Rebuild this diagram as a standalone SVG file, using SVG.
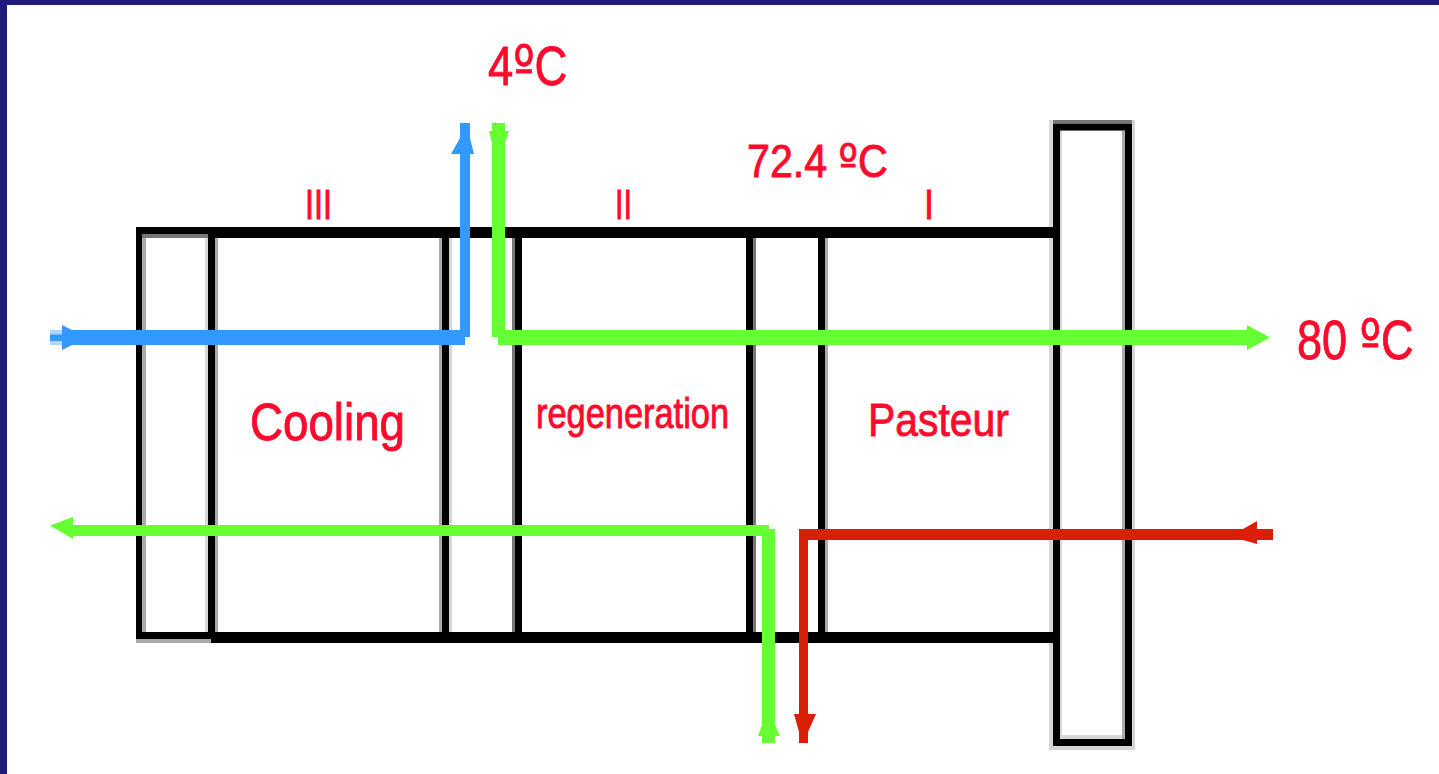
<svg xmlns="http://www.w3.org/2000/svg" width="1439" height="774" viewBox="0 0 1439 774">
<style>
.k{fill:#000}.g1{fill:#d6d6d6}.g2{fill:#aaa}.g3{fill:#777}
.t{fill:#ff0a2c;font-family:"Liberation Sans",Arial,sans-serif;stroke:#ff0a2c;stroke-width:.9}
.o{font-family:"DejaVu Sans",sans-serif}
.blue{fill:#3399ff}.green{fill:#66ff33}.red{fill:#d92007}
</style>
<rect width="1439" height="774" fill="#fff"/>
<path d="M0 0H1439V5H7V774H0Z" fill="#1f1a7a"/>
<g id="end-frame-left">
<rect class="g2" x="142" y="238" width="4" height="394"/>
<rect class="g1" x="205" y="238" width="3" height="394"/>
<rect class="k" x="136" y="227" width="6" height="412"/>
<rect class="g3" x="142" y="234" width="66" height="4"/>
<rect class="g2" x="136" y="639" width="75" height="4"/>
<rect class="k" x="136" y="632" width="75" height="7"/>
</g>
<g id="section-cooling">
<rect class="k" x="136" y="227" width="307" height="7"/>
<rect class="k" x="208" y="227" width="235" height="11"/>
<rect class="g2" x="215" y="238" width="3" height="394"/>
<rect class="k" x="208" y="227" width="7" height="412"/>
<rect class="k" x="211" y="632" width="232" height="11"/>
<rect class="g2" x="439" y="238" width="3" height="394"/>
<rect class="g1" x="449" y="238" width="3" height="394"/>
<rect class="k" x="442" y="227" width="7" height="416"/>
<text class="t" x="250" y="440" font-size="52" textLength="155" lengthAdjust="spacingAndGlyphs">Cooling</text>
<text class="t" x="305" y="219" font-size="43" textLength="27" lengthAdjust="spacingAndGlyphs">III</text>
</g>
<g id="section-regeneration">
<rect class="k" x="443" y="227" width="304" height="11"/>
<rect class="g3" x="512" y="238" width="3" height="394"/>
<rect class="k" x="515" y="227" width="7" height="416"/>
<rect class="k" x="443" y="632" width="304" height="11"/>
<text class="t" x="536" y="428" font-size="42" textLength="193" lengthAdjust="spacingAndGlyphs">regeneration</text>
<text class="t" x="615" y="219" font-size="43" textLength="17" lengthAdjust="spacingAndGlyphs">II</text>
</g>
<g id="section-pasteur">
<rect class="g3" x="753" y="238" width="3" height="394"/>
<rect class="k" x="746" y="227" width="7" height="416"/>
<rect class="g2" x="825" y="238" width="3" height="394"/>
<rect class="k" x="818" y="227" width="7" height="416"/>
<text class="t" x="868" y="436" font-size="47" textLength="141" lengthAdjust="spacingAndGlyphs">Pasteur</text>
<text class="t" x="924" y="219" font-size="43" textLength="10" lengthAdjust="spacingAndGlyphs">I</text>
</g>
<g id="end-frame-right">
<rect class="g1" x="1049" y="120" width="86" height="630"/>
<rect fill="#fff" x="1062" y="131" width="60" height="608"/>
<rect class="g3" x="1053" y="120" width="79" height="3"/>
<rect class="g2" x="1122" y="131" width="3" height="608"/>
<rect class="g1" x="1059" y="735" width="63" height="4"/>
<rect fill="none" stroke="#000" stroke-width="7" x="1056.500" y="127" width="72" height="615.500"/>
<rect class="k" x="746" y="227" width="310" height="11"/>
<rect class="k" x="746" y="632" width="310" height="11"/>
</g>
<g id="connectors">
<path class="blue" opacity=".4" d="M50 330H62V345H50Z"/>
<path class="blue" d="M50 334.500H62V325L72 330H460V154H451L460 138V123H470V138L474 154H470V337H465V345H72L62 350V341H50Z"/>
<path class="green" d="M492 123H505V131H509L505 143V330H1247V325L1270 337.500L1247 350V345H498V337H492V143L489 131H492Z"/>
<path class="green" d="M50 525.500L73 517V525H769V529H775V725L780 736H775V743H762V736H758L762 725V536H73V539Z"/>
<path class="red" d="M799 529H1243L1257 521V529H1273V540H1257V544L1243 540H808V714H816L808 732V743H799V732L794 714H799Z"/>
</g>
<g id="temperature-labels">
<text class="t" transform="translate(488 85) scale(.81 1)" font-size="56">4<tspan class="o">º</tspan>C</text>
<text class="t" transform="translate(747 177) scale(.895 1)" font-size="46">72.4 <tspan class="o">º</tspan>C</text>
<text class="t" transform="translate(1297 359) scale(.805 1)" font-size="56">80 <tspan class="o">º</tspan>C</text>
</g>
</svg>
